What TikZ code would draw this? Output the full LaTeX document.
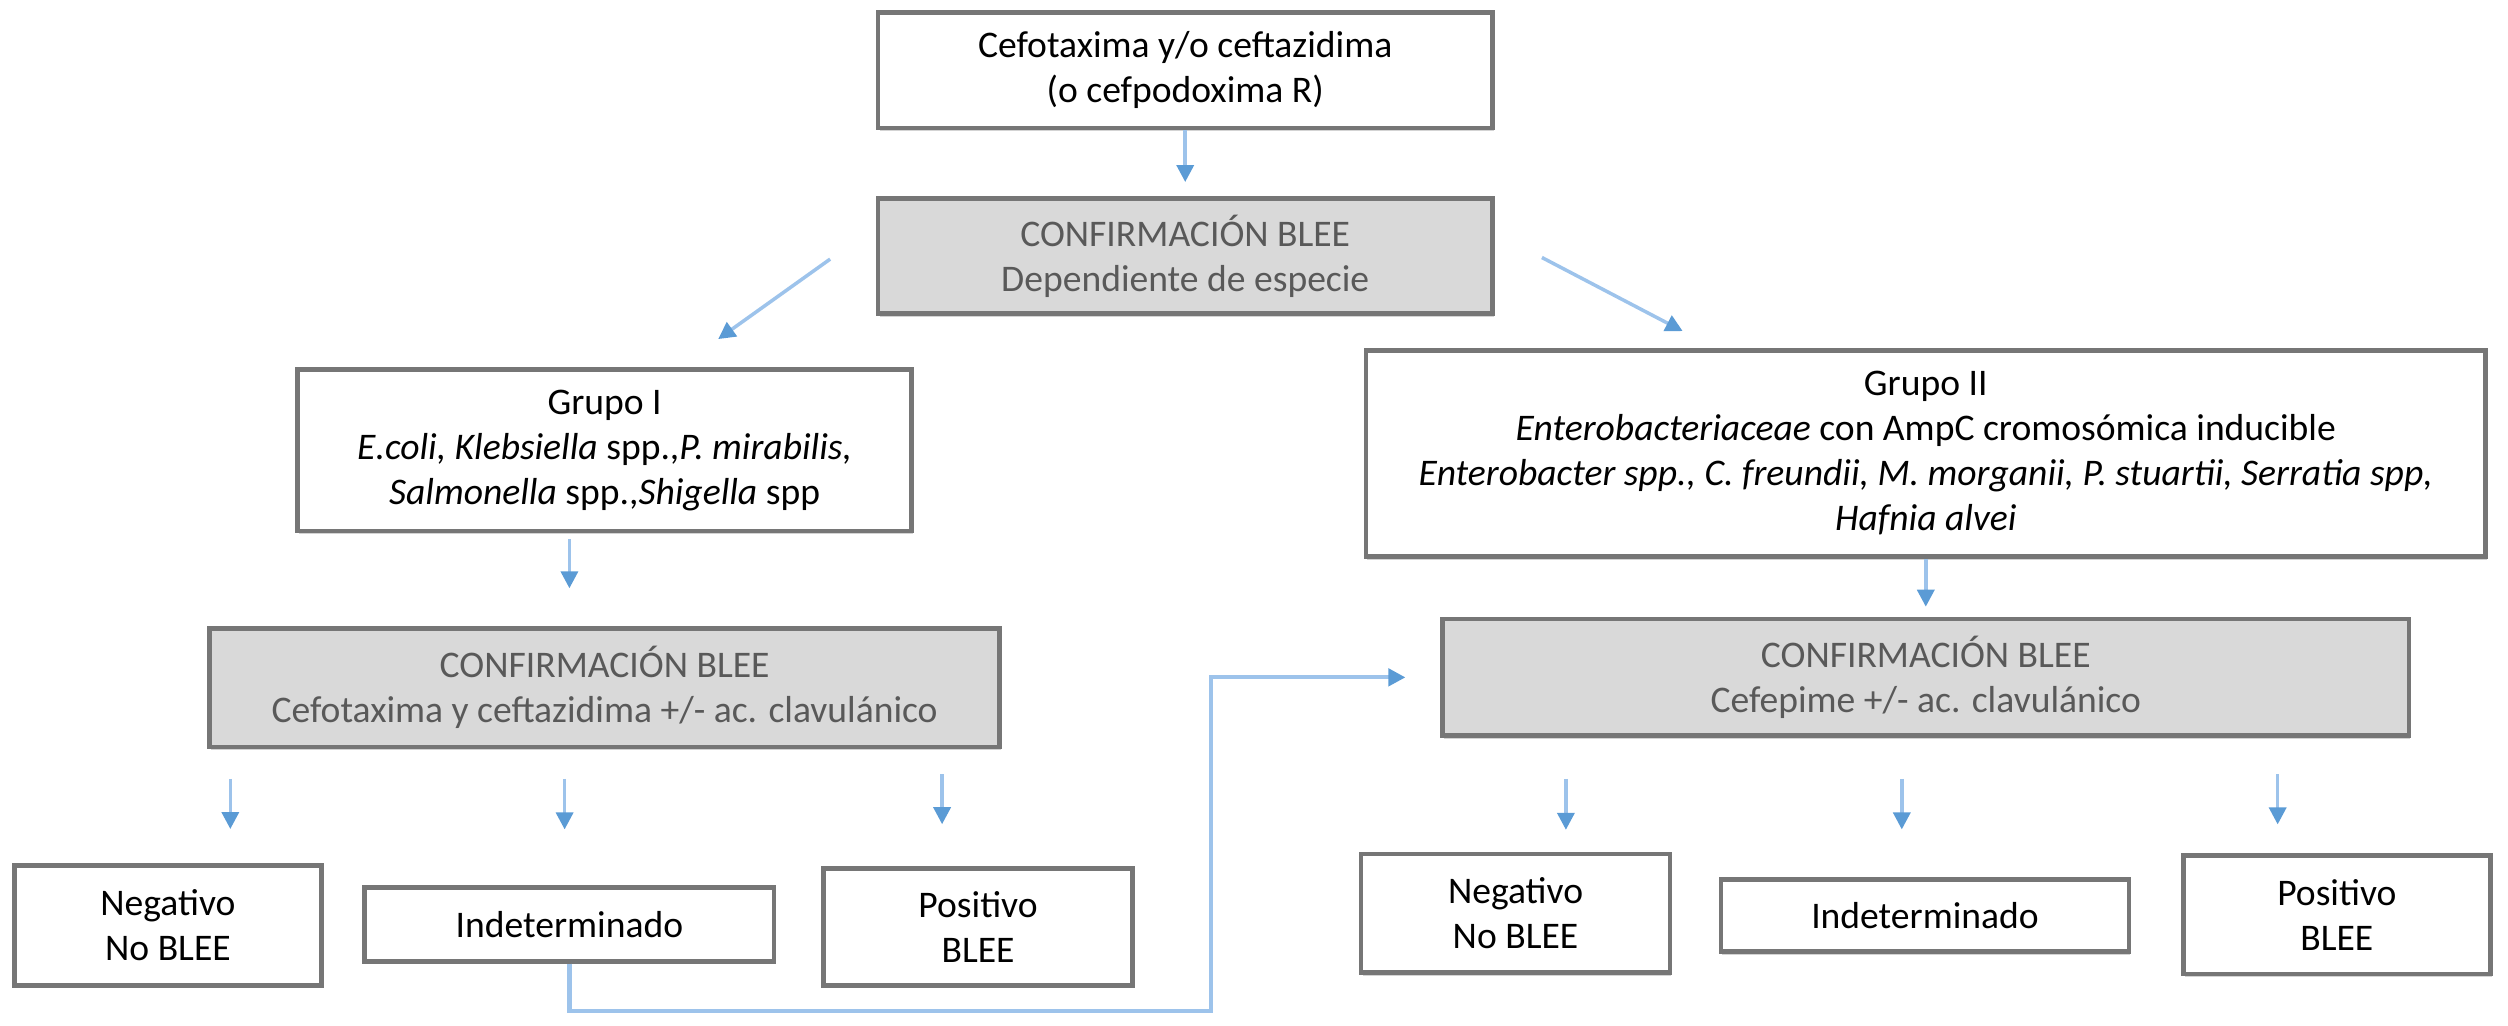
\documentclass[tikz,border=0pt]{standalone}
\usepackage{fontspec}
\setmainfont{Carlito}
\usetikzlibrary{arrows.meta, positioning, shadows}
\definecolor{boxgray}{RGB}{217, 217, 217}
\definecolor{bordergray}{RGB}{118, 118, 118}
\definecolor{textgray}{RGB}{89, 89, 89}
\definecolor{linkblue}{RGB}{157, 195, 235}
\definecolor{tipblue}{RGB}{91, 155, 213}
\tikzset{
    % White boxes
    plain box/.style={
        rectangle, draw=bordergray, line width=1.3pt, fill=white,
        align=center, inner sep=0pt,
        font=\fontsize{10.7}{12.8}\selectfont,
        drop shadow={shadow xshift=0.4pt, shadow yshift=-0.9pt, opacity=0.35}
    },
    % Confirmation boxes (gray)
    confirm box/.style={
        plain box, fill=boxgray, text=textgray
    },
    % Arrows
    flow arrow/.style={
        -{Triangle[length=1.7mm, width=1.7mm, color=tipblue]},
        line width=1pt, color=linkblue
    }
}

\begin{document}
\begin{tikzpicture}

    \useasboundingbox (0, 0) rectangle (25.088, 10.256);

    % ======== TOP ========
    \node[plain box, minimum width=6.144cm, minimum height=1.152cm] (start) at (11.856, 9.552) {Cefotaxima y/o ceftazidima\\(o cefpodoxima R)};
    \node[confirm box, minimum width=6.144cm, minimum height=1.152cm] (conf1) at (11.856, 7.696) {CONFIRMACIÓN BLEE\\Dependiente de especie};
    \draw[flow arrow, shorten >=0.14cm] (start) -- (conf1);

    % Branches
    \coordinate (left from) at (8.304, 7.664);
    \coordinate (left to) at (7.184, 6.864);
    \draw[flow arrow] (left from) -- (left to);
    \coordinate (right from) at (15.424, 7.68);
    \coordinate (right to) at (16.832, 6.944);
    \draw[flow arrow] (right from) -- (right to);

    % ======== GRUPO I (LEFT) ========
    \node[plain box, minimum width=6.144cm, minimum height=1.616cm] (g1) at (6.048, 5.752) {Grupo I\\\textit{E.coli, Klebsiella} spp.,\textit{P. mirabilis,}\\\textit{Salmonella} spp.,\textit{Shigella} spp};
    \node[confirm box, minimum width=7.904cm, minimum height=1.184cm] (conf2) at (6.048, 3.376) {CONFIRMACIÓN BLEE\\Cefotaxima y ceftazidima +/- ac. clavulánico};

    % Results
    \node[plain box, minimum width=3.072cm, minimum height=1.2cm] (neg1) at (1.68, 1.0) {Negativo\\No BLEE};
    \node[plain box, minimum width=4.096cm, minimum height=0.736cm] (ind1) at (5.696, 1.008) {Indeterminado};
    \node[plain box, minimum width=3.088cm, minimum height=1.168cm] (pos1) at (9.784, 0.984) {Positivo\\BLEE};

    \draw[flow arrow, shorten <=0.06cm, shorten >=0.38cm] (g1.south -| ind1) -- (conf2.north -| ind1);

    \coordinate (neg1 top) at (2.304, 2.464);
    \draw[flow arrow, shorten >=0.34cm] (neg1 top) -- (neg1 top |- neg1.north);
    \coordinate (ind1 top) at (5.648, 2.464);
    \draw[flow arrow, shorten >=0.56cm] (ind1 top) -- (ind1 top |- ind1.north);
    \coordinate (pos1 top) at (9.424, 2.512);
    \draw[flow arrow, shorten >=0.42cm] (pos1 top) -- (pos1 top |- pos1.north);

    % ======== GRUPO II (RIGHT) ========
    \node[plain box, minimum width=11.2cm, minimum height=2.064cm] (g2) at (19.264, 5.72) {Grupo II\\\textit{Enterobacteriaceae} con AmpC cromosómica inducible\\\textit{Enterobacter spp., C. freundii, M. morganii, P. stuartii, Serratia spp,}\\\textit{Hafnia alvei}};
    \node[confirm box, minimum width=9.664cm, minimum height=1.168cm] (conf3) at (19.264, 3.48) {CONFIRMACIÓN BLEE\\Cefepime +/- ac. clavulánico};
    \draw[flow arrow, shorten >=0.1cm] (g2) -- (conf3);

    % Results
    \node[plain box, minimum width=3.088cm, minimum height=1.184cm] (neg2) at (15.16, 1.12) {Negativo\\No BLEE};
    \node[plain box, minimum width=4.08cm, minimum height=0.72cm] (ind2) at (19.256, 1.096) {Indeterminado};
    \node[plain box, minimum width=3.072cm, minimum height=1.184cm] (pos2) at (23.376, 1.104) {Positivo\\BLEE};

    \coordinate (neg2 top) at (15.664, 2.464);
    \draw[flow arrow, shorten >=0.22cm] (neg2 top) -- (neg2 top |- neg2.north);
    \coordinate (ind2 top) at (19.024, 2.464);
    \draw[flow arrow, shorten >=0.48cm] (ind2 top) -- (ind2 top |- ind2.north);
    \coordinate (pos2 top) at (22.784, 2.512);
    \draw[flow arrow, shorten >=0.29cm] (pos2 top) -- (pos2 top |- pos2.north);

    % Indeterminado -> second confirmation
    \coordinate (turn) at (12.112, 0.144);
    \draw[flow arrow, line width=1.2pt, shorten >=0.35cm] (ind1.south) |- (turn) |- (conf3.west);

\end{tikzpicture}
\end{document}
